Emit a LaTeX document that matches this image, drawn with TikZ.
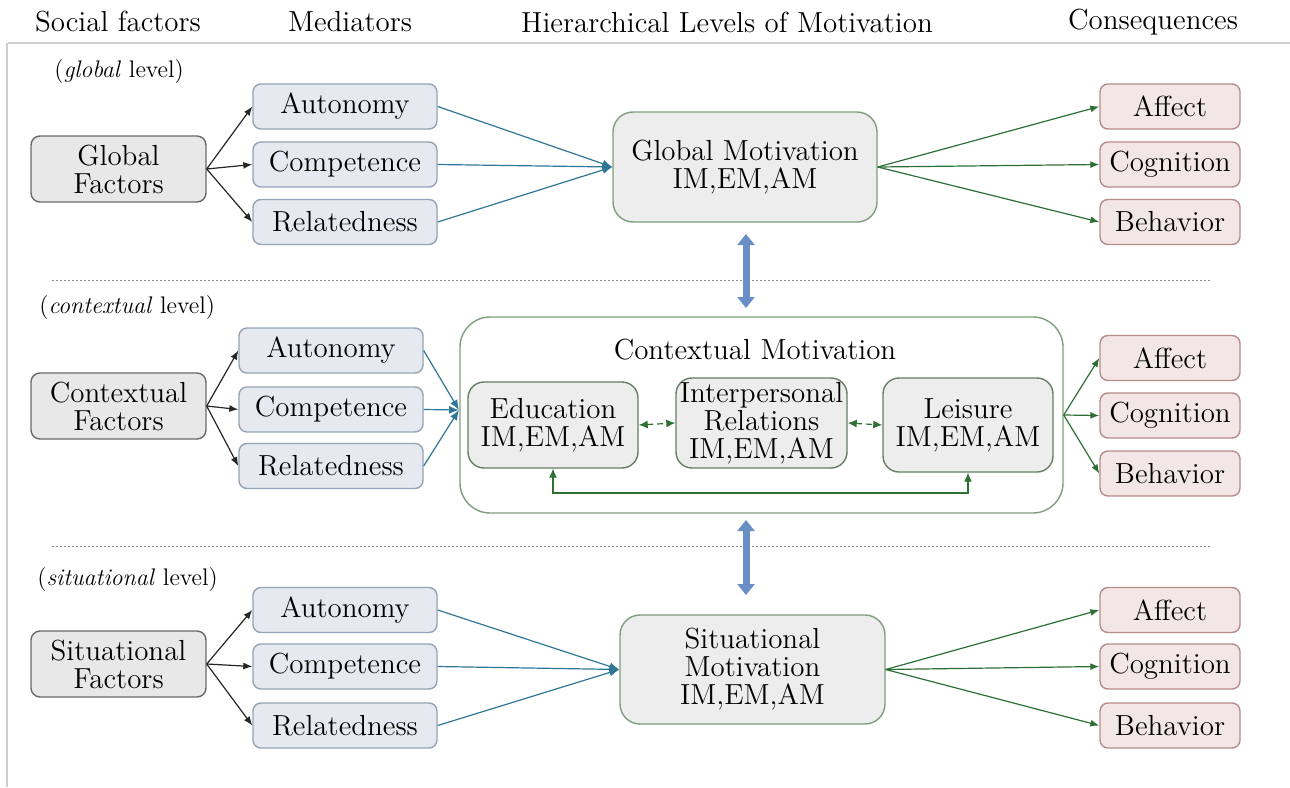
\documentclass[tikz,border=0pt]{standalone}
\usetikzlibrary{arrows.meta}
\definecolor{facF}{HTML}{E8E8E8}
\definecolor{facB}{HTML}{6A6A6A}
\definecolor{medF}{HTML}{E6EAF0}
\definecolor{medB}{HTML}{95A3B6}
\definecolor{motF}{HTML}{EDEDED}
\definecolor{motB}{HTML}{7E9E7E}
\definecolor{conF}{HTML}{F2E6E6}
\definecolor{conB}{HTML}{B88C8C}
\definecolor{blueA}{HTML}{2F7797}
\definecolor{greenA}{HTML}{2E7033}
\definecolor{bigA}{HTML}{6A8FC6}
\definecolor{lineG}{HTML}{CFCFCF}
\newcommand\boxfont{\fontsize{14.5}{14}\selectfont}
\newcommand\headfont{\fontsize{14.5}{16}\selectfont}
\newcommand\levelfont{\fontsize{12}{13}\selectfont}
\begin{document}
\begin{tikzpicture}[x=0.5pt,y=-0.5pt,
  base/.style={align=center,inner sep=0pt,font=\boxfont,line width=0.7pt},
  fac/.style={base,draw=facB,fill=facF,rounded corners=4.5pt,minimum width=87.5pt,minimum height=33pt},
  med/.style={base,draw=medB,fill=medF,rounded corners=4pt,minimum width=92pt,minimum height=22.5pt},
  cons/.style={base,draw=conB,fill=conF,rounded corners=4pt,minimum width=70pt,minimum height=22.5pt},
  mot/.style={base,draw=motB,fill=motF,rounded corners=10pt},
  sub/.style={base,draw=motB!80!black,fill=motF,rounded corners=8pt},
  head/.style={font=\headfont,inner sep=0pt},
  lvl/.style={font=\levelfont,inner sep=0pt,anchor=west},
  blk/.style={draw=black!85,line width=0.6pt,-{Latex[length=4.5pt,width=3.5pt]}},
  blu/.style={draw=blueA,line width=0.6pt,-{Latex[length=5pt,width=4pt]}},
  grn/.style={draw=greenA,line width=0.6pt,-{Latex[length=4.5pt,width=3.5pt]}},
  grnd/.style={draw=greenA,line width=0.6pt,{Latex[length=4.5pt,width=4pt]}-{Latex[length=4.5pt,width=4pt]}},
  big/.style={draw=bigA,line width=3.5pt,{Triangle[width=8.5pt,length=5.5pt]}-{Triangle[width=8.5pt,length=5.5pt]}},
  sep/.style={draw=black!45,line width=0.5pt,dash pattern=on 1pt off 1pt}
]
\useasboundingbox (0,0) rectangle (1290,787);
\fill[white] (0,0) rectangle (1290,787);
% frame lines
\draw[lineG,line width=1pt] (8,43) -- (1290,43);
\draw[lineG,line width=1pt] (7,43) -- (7,787);
% headers
\node[head] (h1) at (118,22) {Social factors};
\node[head] (h2) at (350,22) {Mediators};
\node[head] (h3) at (727,22) {Hierarchical Levels of Motivation};
\node[head] (h4) at (1153,22) {Consequences};
% level labels
\node[lvl] (l1) at (54,72) {(\textit{global} level)};
\node[lvl] (l2) at (39,308) {(\textit{contextual} level)};
\node[lvl] (l3) at (37,580) {(\textit{situational} level)};
% separators
\draw[sep] (52,280) -- (1210,280);
\draw[sep] (52,546) -- (1210,546);

% ---------- global row
\node[fac] (gf) at (118.5,169) {Global\\Factors};
\node[med] (a1) at (345,106.5) {Autonomy};
\node[med] (c1) at (345,164.5) {Competence};
\node[med] (r1) at (345,222) {Relatedness};
\node[mot,minimum width=132pt,minimum height=55pt] (gm) at (745,167) {Global Motivation\\IM,EM,AM};
\node[cons] (af1) at (1170,106.5) {Affect};
\node[cons] (co1) at (1170,164.5) {Cognition};
\node[cons] (be1) at (1170,222) {Behavior};
\foreach \m in {a1,c1,r1} {\draw[blk] (gf.east) -- (\m.west); \draw[blu] (\m.east) -- (gm.west);}
\foreach \c in {af1,co1,be1} {\draw[grn] (gm.east) -- (\c.west);}

% ---------- contextual row
\node[fac] (cf) at (118.5,406) {Contextual\\Factors};
\node[med] (a2) at (331,350.5) {Autonomy};
\node[med] (c2) at (331,409.5) {Competence};
\node[med] (r2) at (331,466) {Relatedness};
\node[mot,fill=white,rounded corners=15pt,minimum width=301.5pt,minimum height=98pt] (cm) at (761.5,415) {};
\node[base] (cmt) at (755,350) {Contextual Motivation};
\node[sub,minimum width=85pt,minimum height=43pt] (ed) at (553,425) {Education\\IM,EM,AM};
\node[sub,minimum width=85.5pt,minimum height=45pt] (ip) at (761.5,423) {Interpersonal\\Relations\\IM,EM,AM};
\node[sub,minimum width=85pt,minimum height=47pt] (le) at (968,425) {Leisure\\IM,EM,AM};
\coordinate (cin) at (459,410);
\coordinate (lp) at (760,493);
\node[cons] (af2) at (1170,358) {Affect};
\node[cons] (co2) at (1170,415.5) {Cognition};
\node[cons] (be2) at (1170,473.5) {Behavior};
\foreach \m in {a2,c2,r2} {\draw[blk] (cf.east) -- (\m.west); \draw[blu] (\m.east) -- (cin);}
\foreach \c in {af2,co2,be2} {\draw[grn] (cm.east) -- (\c.west);}
\draw[grnd,dash pattern=on 3pt off 2pt] (ed.east) -- (ip.west);
\draw[grnd,dash pattern=on 3pt off 2pt] (ip.east) -- (le.west);
\draw[grnd] (ed.south) -- (ed.south |- lp) -| (le.south);

% ---------- situational row
\node[fac] (sf) at (118.5,664) {Situational\\Factors};
\node[med] (a3) at (345,610) {Autonomy};
\node[med] (c3) at (345,666.5) {Competence};
\node[med] (r3) at (345,725.5) {Relatedness};
\node[mot,minimum width=132.5pt,minimum height=54.5pt] (sm) at (752.5,669.5) {Situational\\Motivation\\IM,EM,AM};
\node[cons] (af3) at (1170,610) {Affect};
\node[cons] (co3) at (1170,666.5) {Cognition};
\node[cons] (be3) at (1170,725.5) {Behavior};
\foreach \m in {a3,c3,r3} {\draw[blk] (sf.east) -- (\m.west); \draw[blu] (\m.east) -- (sm.west);}
\foreach \c in {af3,co3,be3} {\draw[grn] (sm.east) -- (\c.west);}

% ---------- level links
\coordinate (d1a) at (746,234);
\coordinate (d1b) at (746,308);
\coordinate (d2a) at (746,520);
\coordinate (d2b) at (746,595);
\draw[big] (d1a) -- (d1b);
\draw[big] (d2a) -- (d2b);
\end{tikzpicture}
\end{document}
